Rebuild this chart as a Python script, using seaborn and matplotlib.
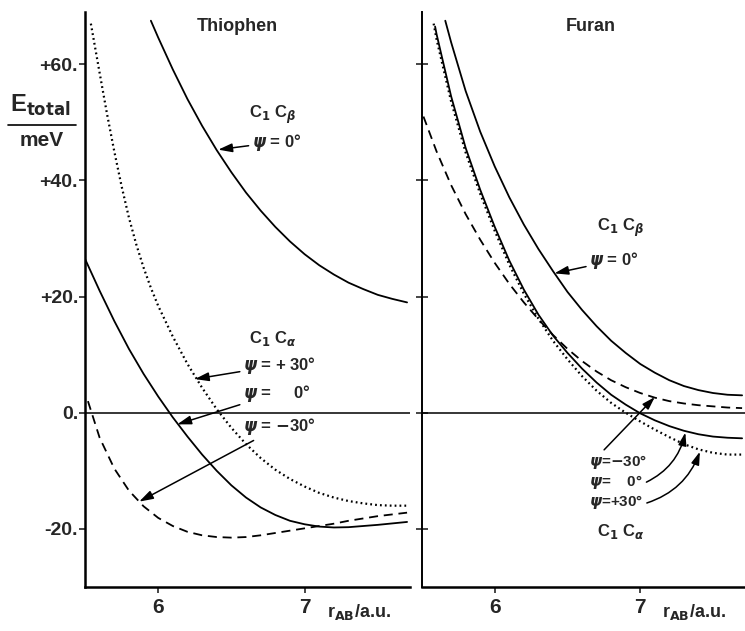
import numpy as np
import pandas as pd
import matplotlib
matplotlib.use("Agg")
import matplotlib.pyplot as plt
from matplotlib.lines import Line2D
import seaborn as sns

# Thiophen curves (r_AB in a.u., E_total in meV)
th_cb_r = [5.95, 6.0, 6.1, 6.2, 6.3, 6.4, 6.5, 6.6, 6.7, 6.8, 6.9, 7.0, 7.1, 7.2, 7.3, 7.4, 7.5, 7.6, 7.7]
th_cb_e = [67.5, 64.6, 59.1, 54.0, 49.4, 45.2, 41.4, 37.9, 34.8, 32.0, 29.5, 27.3, 25.4, 23.8, 22.4, 21.3, 20.3, 19.6, 19.0]

th_p30_r = [5.54, 5.6, 5.65, 5.7, 5.75, 5.8, 5.85, 5.9, 5.95, 6.0, 6.1, 6.2, 6.3, 6.4, 6.5, 6.6, 6.7, 6.8, 6.9, 7.0, 7.1, 7.2, 7.3, 7.4, 7.5, 7.6, 7.7]
th_p30_e = [67, 58.5, 51.5, 45, 39, 33.6, 29, 25, 21.5, 18.4, 13.1, 8.4, 4.3, 0.6, -2.6, -5.4, -7.8, -9.8, -11.4, -12.7, -13.8, -14.6, -15.2, -15.6, -15.9, -16.0, -16.0]

th_0_r = [5.5, 5.6, 5.7, 5.8, 5.9, 6.0, 6.1, 6.2, 6.3, 6.4, 6.5, 6.6, 6.7, 6.8, 6.9, 7.0, 7.1, 7.2, 7.3, 7.4, 7.5, 7.6, 7.7]
th_0_e = [26.5, 21, 15.8, 11.0, 6.7, 2.8, -0.8, -4.1, -7.2, -10.0, -12.5, -14.6, -16.3, -17.6, -18.6, -19.2, -19.6, -19.75, -19.7, -19.5, -19.3, -19.05, -18.8]

th_m30_r = [5.52, 5.6, 5.7, 5.8, 5.9, 6.0, 6.1, 6.2, 6.3, 6.4, 6.5, 6.6, 6.7, 6.8, 6.9, 7.0, 7.1, 7.2, 7.3, 7.4, 7.5, 7.6, 7.7]
th_m30_e = [2, -4.3, -9.6, -13.4, -16.1, -18.1, -19.5, -20.5, -21.1, -21.4, -21.5, -21.4, -21.1, -20.7, -20.3, -19.9, -19.5, -19.1, -18.6, -18.2, -17.8, -17.5, -17.2]

# Furan curves
fu_cb_r = [5.66, 5.7, 5.8, 5.9, 6.0, 6.1, 6.2, 6.3, 6.4, 6.5, 6.6, 6.7, 6.8, 6.9, 7.0, 7.1, 7.2, 7.3, 7.4, 7.5, 7.6, 7.7]
fu_cb_e = [67.5, 63.8, 55.4, 48.4, 42.4, 37.1, 32.4, 28.2, 24.4, 20.8, 17.7, 14.9, 12.4, 10.3, 8.4, 6.9, 5.6, 4.6, 3.9, 3.4, 3.1, 3.0]

fu_0_r = [5.59, 5.6, 5.7, 5.8, 5.9, 6.0, 6.1, 6.2, 6.3, 6.4, 6.5, 6.6, 6.7, 6.8, 6.9, 7.0, 7.1, 7.2, 7.3, 7.4, 7.5, 7.6, 7.7]
fu_0_e = [66.5, 65.2, 54.5, 45.6, 38.4, 32.0, 26.2, 21.2, 16.9, 13.3, 10.3, 7.6, 5.2, 3.1, 1.4, -0.1, -1.3, -2.3, -3.1, -3.7, -4.1, -4.3, -4.4]

fu_p30_r = [5.58, 5.6, 5.7, 5.8, 5.9, 6.0, 6.1, 6.2, 6.3, 6.4, 6.5, 6.6, 6.7, 6.8, 6.9, 7.0, 7.1, 7.2, 7.3, 7.4, 7.5, 7.6, 7.7]
fu_p30_e = [67, 64.3, 53.6, 44.8, 37.7, 31.3, 25.5, 20.5, 16.2, 12.4, 9.2, 6.3, 3.8, 1.7, 0.0, -1.5, -2.9, -4.2, -5.4, -6.3, -6.9, -7.2, -7.2]

fu_m30_r = [5.51, 5.6, 5.7, 5.8, 5.9, 6.0, 6.1, 6.2, 6.3, 6.4, 6.5, 6.6, 6.7, 6.8, 6.9, 7.0, 7.1, 7.2, 7.3, 7.4, 7.5, 7.6, 7.7]
fu_m30_e = [51, 45, 39.2, 34.2, 29.8, 25.8, 22.2, 19.0, 16.1, 13.4, 11.0, 8.9, 7.1, 5.6, 4.4, 3.4, 2.6, 2.0, 1.6, 1.3, 1.1, 0.9, 0.8]

y_ticks = [-20, 0, 20, 40, 60]
y_ticklabels = ["-20.", "0.", "+20.", "+40.", "+60."]
x_ticks = [6, 7]

sns.set_style("white")
plt.rcParams["font.family"] = ["Liberation Sans Narrow", "Liberation Sans", "DejaVu Sans"]
plt.rcParams["font.weight"] = "bold"
plt.rcParams["mathtext.fontset"] = "dejavusans"

fig = plt.figure(figsize=(7.45, 6.31), dpi=100)
axL = fig.add_axes([85/745, 44/631, 325/745, 575/631])
axR = fig.add_axes([422/745, 44/631, 323/745, 575/631])

solid = dict(color="black", lw=1.3)
dotted = dict(color="black", lw=1.6, linestyle=(0, (0.8, 1.4)))
dashed = dict(color="black", lw=1.3, linestyle=(0, (5, 3.2)))

def draw(ax, r, e, style):
    sns.lineplot(x=r, y=e, ax=ax, legend=False, **style)

draw(axL, th_cb_r, th_cb_e, solid)
draw(axL, th_p30_r, th_p30_e, dotted)
draw(axL, th_0_r, th_0_e, solid)
draw(axL, th_m30_r, th_m30_e, dashed)

draw(axR, fu_cb_r, fu_cb_e, solid)
draw(axR, fu_0_r, fu_0_e, solid)
draw(axR, fu_p30_r, fu_p30_e, dotted)
draw(axR, fu_m30_r, fu_m30_e, dashed)

for ax in (axL, axR):
    ax.set_xlim(5.5, 7.72)
    ax.set_ylim(-30, 69)
    ax.axhline(0, color="black", lw=1.1)
    ax.set_xticks(x_ticks)
    ax.set_xticklabels([str(v) for v in x_ticks], fontsize=15)
    ax.set_yticks(y_ticks)
    ax.set_xlabel("")
    ax.set_ylabel("")
    for s in ("top", "right"):
        ax.spines[s].set_visible(False)
    for s in ("left", "bottom"):
        ax.spines[s].set_linewidth(1.8)
        ax.spines[s].set_color("black")
    ax.tick_params(axis="x", direction="out", length=4, width=1.2, pad=4, bottom=True)
    ax.text(7.15, -34.3, r"r$_{\mathrm{AB}}$/a.u.", fontsize=13, ha="left", va="center", clip_on=False)

axL.set_yticklabels(y_ticklabels, fontsize=14)
axL.tick_params(axis="y", direction="out", length=4, width=1.2, pad=1, left=True)
axR.set_yticklabels([])
axR.tick_params(axis="y", direction="inout", length=9, width=1.2, left=True)
axR.spines["left"].set_linewidth(1.4)

axL.text(0.47, 0.974, "Thiophen", transform=axL.transAxes, ha="center", va="center",
         fontsize=13, fontweight="bold", family=["Liberation Sans", "DejaVu Sans"])
axR.text(0.523, 0.974, "Furan", transform=axR.transAxes, ha="center", va="center",
         fontsize=13, fontweight="bold", family=["Liberation Sans", "DejaVu Sans"])

# y label as a fraction
fig.text(10/745, 1 - 105/631, r"E$_{\mathrm{total}}$", fontsize=17, ha="left", va="center")
fig.add_artist(Line2D([8/745, 76/745], [1 - 125/631, 1 - 125/631], color="black", lw=1.2))
fig.text(42/745, 1 - 141/631, "meV", fontsize=15, ha="center", va="center")

arrow = dict(arrowstyle="-|>,head_length=0.7,head_width=0.22", color="black", lw=1.1, shrinkA=0, shrinkB=0)
fs = 12
fs2 = 11

# Thiophen labels
axL.text(6.62, 51.2, r"C$_1$ C$_\beta$", fontsize=fs, ha="left", va="center")
axL.annotate(r"$\psi$ = 0°", xy=(6.41, 45.3), xytext=(6.64, 46.6), fontsize=fs, ha="left", va="center",
             arrowprops=arrow)
axL.text(6.62, 12.8, r"C$_1$ C$_\alpha$", fontsize=fs, ha="left", va="center")
axL.annotate(r"$\psi$ = + 30°", xy=(6.25, 5.8), xytext=(6.58, 8.2), fontsize=fs, ha="left", va="center",
             arrowprops=arrow)
axL.annotate(r"$\psi$ =     0°", xy=(6.13, -2.0), xytext=(6.58, 3.4), fontsize=fs, ha="left", va="center",
             arrowprops=arrow)
axL.annotate(r"$\psi$ = $-$30°", xy=(5.87, -15.3), xytext=(6.58, -2.4), fontsize=fs, ha="left", va="center",
             arrowprops=arrow)

# Furan labels
axR.text(6.70, 31.8, r"C$_1$ C$_\beta$", fontsize=fs, ha="left", va="center")
axR.annotate(r"$\psi$ = 0°", xy=(6.41, 24.0), xytext=(6.65, 26.2), fontsize=fs, ha="left", va="center",
             arrowprops=arrow)
axR.annotate(r"$\psi$=$-$30°", xy=(7.10, 2.7), xytext=(6.65, -8.5), fontsize=fs2, ha="left", va="center",
             arrowprops=dict(arrow, relpos=(0.2, 1.0)))
axR.annotate(r"$\psi$=    0°", xy=(7.31, -3.4), xytext=(6.65, -11.9), fontsize=fs2, ha="left", va="center",
             arrowprops=dict(arrow, relpos=(1.0, 0.4), connectionstyle="arc3,rad=0.25"))
axR.annotate(r"$\psi$=+30°", xy=(7.41, -6.7), xytext=(6.65, -15.4), fontsize=fs2, ha="left", va="center",
             arrowprops=dict(arrow, relpos=(1.0, 0.4), connectionstyle="arc3,rad=0.25"))
axR.text(6.70, -20.4, r"C$_1$ C$_\alpha$", fontsize=fs, ha="left", va="center")

fig.savefig("out.png", dpi=100)
